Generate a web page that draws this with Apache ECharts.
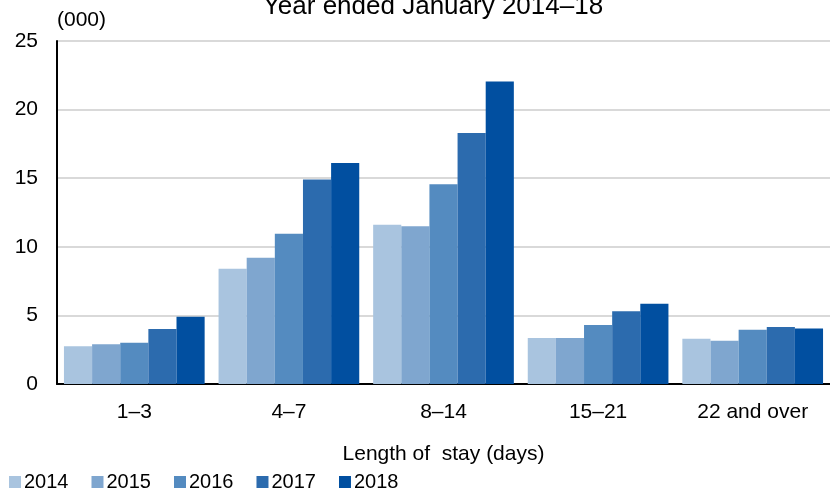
<!DOCTYPE html>
<html>
<head>
<meta charset="utf-8">
<script src="https://cdn.jsdelivr.net/npm/echarts@6/dist/echarts.min.js"></script>
<style>
html, body { margin: 0; padding: 0; background: #fff; }
#chart { width: 830px; height: 489px; }
</style>
</head>
<body>
<div id="chart"></div>
<script>
// 分类与数据
var categories = ['1\u20133', '4\u20137', '8\u201314', '15\u201321', '22 and over'];
var years = ['2014', '2015', '2016', '2017', '2018'];
var v2014 = [2.75, 8.4, 11.6, 3.35, 3.3];
var v2015 = [2.9, 9.2, 11.5, 3.35, 3.15];
var v2016 = [3.0, 10.95, 14.55, 4.3, 3.95];
var v2017 = [4.0, 14.9, 18.3, 5.3, 4.15];
var v2018 = [4.9, 16.1, 22.05, 5.85, 4.05];
var yTicks = [0, 5, 10, 15, 20, 25];
var barColors = ['#A9C4DF', '#7FA6CF', '#548BC0', '#2C6BAE', '#014FA0'];

var font = 'Liberation Sans, Arial, sans-serif';
var allValues = [v2014, v2015, v2016, v2017, v2018];

var myChart = echarts.init(document.getElementById('chart'));
var series = [];
for (var i = 0; i < years.length; i++) {
	series.push({
		name: years[i],
		type: 'bar',
		barGap: '0%',
		barCategoryGap: '9%',
		itemStyle: { color: barColors[i] },
		data: allValues[i]
	});
}

var option = {
	animation: false,
	color: barColors,
	textStyle: { fontFamily: font },
	title: {
		text: 'Year ended January 2014\u201318',
		left: 428,
		top: -11,
		textAlign: 'center',
		textStyle: { fontFamily: font, fontSize: 26, fontWeight: 'normal', color: '#000' }
	},
	legend: {
		data: years,
		left: 4,
		top: 467,
		icon: 'rect',
		itemWidth: 12,
		itemHeight: 12,
		itemGap: 23,
		textStyle: { fontFamily: font, fontSize: 20, color: '#000', padding: [0, 0, 0, -2] }
	},
	grid: {
		left: 57,
		right: -8.5,
		top: 41,
		bottom: 105
	},
	xAxis: {
		type: 'category',
		data: categories,
		name: 'Length of  stay (days)',
		nameLocation: 'middle',
		nameGap: 60,
		nameTextStyle: { fontFamily: font, fontSize: 21, color: '#000' },
		axisLine: { lineStyle: { color: '#000', width: 2 } },
		axisTick: { show: false },
		axisLabel: { fontFamily: font, fontSize: 21, color: '#000', margin: 18 }
	},
	yAxis: {
		type: 'value',
		min: yTicks[0],
		max: yTicks[yTicks.length - 1],
		interval: 5,
		name: '(000)',
		nameLocation: 'end',
		nameGap: 10,
		nameTextStyle: { fontFamily: font, fontSize: 21, color: '#000', align: 'left' },
		axisLine: { show: true, lineStyle: { color: '#000', width: 2 } },
		axisTick: { show: false },
		axisLabel: { fontFamily: font, fontSize: 21, color: '#000', margin: 19 },
		splitLine: { lineStyle: { color: '#D9D9D9', width: 2 } }
	},
	series: series
};
myChart.setOption(option);
</script>
</body>
</html>
